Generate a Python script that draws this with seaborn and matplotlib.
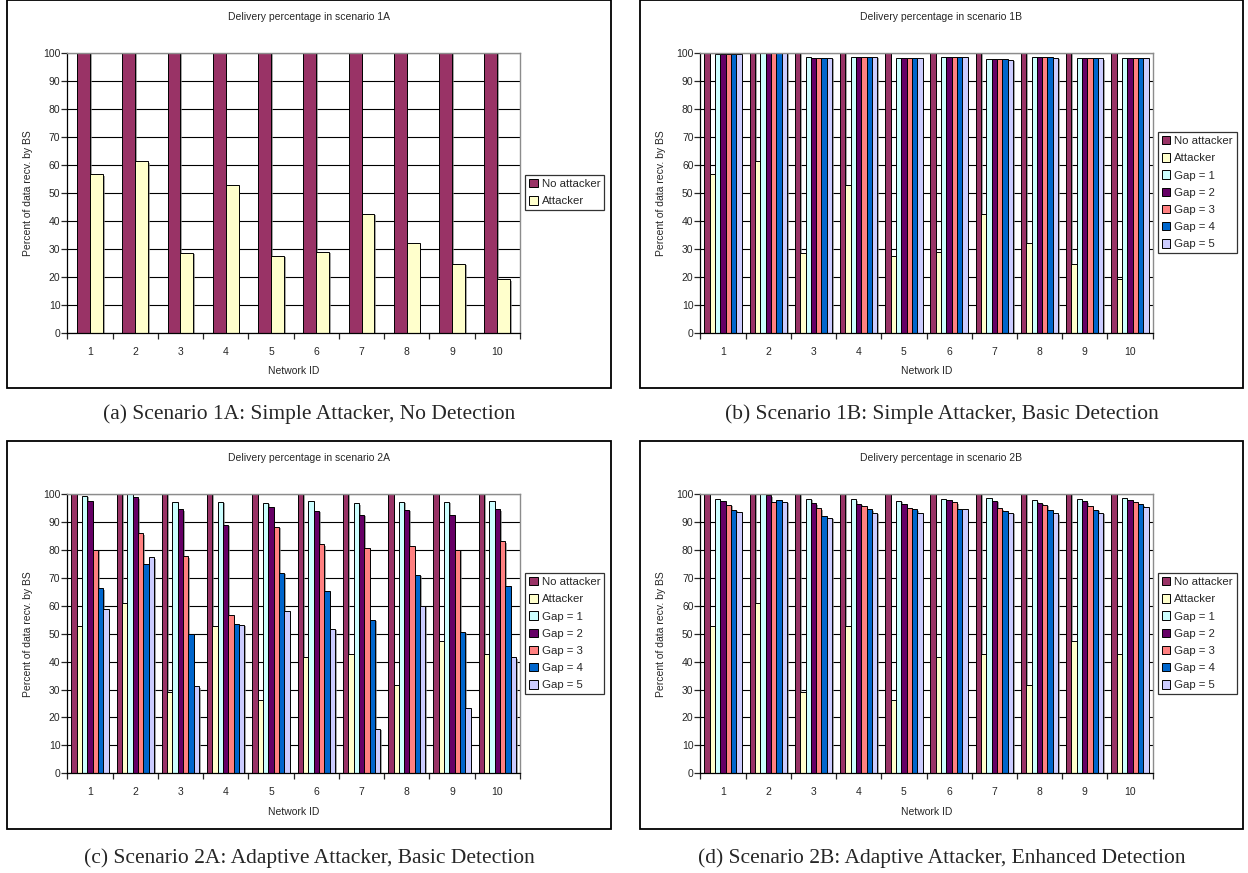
import numpy as np
import pandas as pd
import matplotlib
matplotlib.use("Agg")
import matplotlib.pyplot as plt
import matplotlib.patheffects as pe
from matplotlib.patches import Patch, Rectangle
import seaborn as sns

# ---- data ----
network_ids = ["1", "2", "3", "4", "5", "6", "7", "8", "9", "10"]

no_attacker = [100, 100, 100, 100, 100, 100, 100, 100, 100, 100]
attacker_1 = [56.6, 61.2, 28.6, 52.9, 27.4, 28.9, 42.4, 31.9, 24.5, 19.0]
attacker_2 = [52.7, 61.1, 29.2, 52.7, 26.4, 41.6, 42.6, 31.7, 47.5, 42.8]

gap1_1b = [99.5, 100, 98.3, 98.6, 98.0, 98.6, 97.9, 98.3, 98.2, 98.2]
gap2_1b = [99.4, 99.9, 98.1, 98.5, 98.0, 98.5, 97.6, 98.3, 98.0, 98.1]
gap3_1b = [99.4, 99.9, 98.2, 98.6, 98.1, 98.4, 97.7, 98.3, 98.0, 98.0]
gap4_1b = [99.4, 99.9, 98.2, 98.5, 98.1, 98.4, 97.9, 98.3, 98.0, 98.0]
gap5_1b = [99.4, 99.9, 98.2, 98.5, 98.1, 98.5, 97.4, 98.2, 98.0, 98.0]

gap1_2a = [99.3, 100, 97.1, 97.3, 96.9, 97.4, 96.7, 97.3, 97.1, 97.4]
gap2_2a = [97.6, 98.8, 94.5, 89.0, 95.2, 94.0, 92.5, 94.3, 92.6, 94.5]
gap3_2a = [80.0, 85.9, 77.7, 56.6, 88.2, 82.0, 80.8, 81.5, 80.1, 83.1]
gap4_2a = [66.2, 75.1, 49.9, 53.5, 71.7, 65.3, 54.9, 71.1, 50.7, 67.1]
gap5_2a = [58.9, 77.4, 31.1, 53.2, 58.0, 51.7, 16.0, 59.9, 23.3, 41.5]

gap1_2b = [98.1, 100, 98.2, 98.1, 97.5, 98.3, 98.4, 97.7, 98.1, 98.4]
gap2_2b = [97.6, 99.5, 96.7, 96.4, 96.5, 97.9, 97.5, 96.9, 97.4, 97.9]
gap3_2b = [96.2, 97.0, 94.9, 95.6, 94.9, 97.0, 94.9, 96.1, 95.6, 97.0]
gap4_2b = [94.4, 97.7, 92.0, 94.5, 94.5, 94.7, 93.8, 94.2, 94.4, 96.3]
gap5_2b = [93.7, 97.1, 91.4, 93.3, 93.3, 94.5, 93.2, 93.1, 93.2, 95.2]

series_names = ["No attacker", "Attacker", "Gap = 1", "Gap = 2", "Gap = 3", "Gap = 4", "Gap = 5"]
colors = ["#993366", "#FFFFCC", "#CCFFFF", "#660066", "#FF8080", "#0066CC", "#CCCCFF"]
palette = dict(zip(series_names, colors))

W, H = 1248, 873
sns.set_style("white")
plt.rcParams["font.family"] = ["Liberation Sans", "DejaVu Sans"]

fig = plt.figure(figsize=(W / 100, H / 100), dpi=100)


def px_axes(x0, y0, x1, y1):
    return fig.add_axes([x0 / W, 1 - y1 / H, (x1 - x0) / W, (y1 - y0) / H])


def draw_panel(ax, series, title, box, caption, caption_y):
    names = series_names[:len(series)]
    rows = []
    for name, vals in zip(names, series):
        for nid, v in zip(network_ids, vals):
            rows.append({"Network ID": nid, "pct": v, "series": name})
    df = pd.DataFrame(rows)
    n = len(names)
    sns.barplot(data=df, x="Network ID", y="pct", hue="series", order=network_ids,
                hue_order=names, palette=palette, width=n / (n + 1.5), gap=0,
                edgecolor="black", linewidth=0.7, saturation=1, legend=False, ax=ax)
    for p in ax.patches:
        p.set_path_effects([pe.SimplePatchShadow(offset=(1.2, -1.0), shadow_rgbFace="#7f7f7f", alpha=0.7),
                            pe.Normal()])
    ax.set_xlim(-0.5, 9.5)
    ax.set_ylim(0, 100)
    ax.set_yticks(range(0, 101, 10))
    ax.yaxis.grid(True, color="black", linewidth=0.8)
    ax.set_axisbelow(True)
    for s in ["top", "right"]:
        ax.spines[s].set_color("#8c8c8c")
        ax.spines[s].set_linewidth(1.0)
    for s in ["left", "bottom"]:
        ax.spines[s].set_color("black")
        ax.spines[s].set_linewidth(0.9)
    ax.set_xticks(np.arange(-0.5, 10, 1), minor=True)
    ax.tick_params(axis="x", which="major", length=0, pad=10, labelsize=7.5)
    ax.tick_params(axis="x", which="minor", length=4, width=0.9, direction="out", bottom=True)
    ax.tick_params(axis="y", length=4, width=0.9, direction="out", left=True, pad=1, labelsize=7.5)
    ax.set_xlabel("Network ID", fontsize=7.5, labelpad=7)
    ax.set_ylabel("Percent of data recv. by BS", fontsize=7.5, labelpad=7)

    handles = [Patch(facecolor=palette[nm], edgecolor="black", linewidth=0.7) for nm in names]
    leg = ax.legend(handles, names, loc="center left", bbox_to_anchor=(1.012, 0.5),
                    fontsize=8.2, frameon=True, fancybox=False, edgecolor="black",
                    handlelength=0.75, handleheight=0.75, handletextpad=0.35,
                    labelspacing=0.62, borderpad=0.35, borderaxespad=0)
    leg.get_frame().set_linewidth(0.9)

    x0, y0, x1, y1 = box
    fig.add_artist(Rectangle((x0 / W, 1 - y1 / H), (x1 - x0) / W, (y1 - y0) / H,
                             transform=fig.transFigure, fill=False, edgecolor="black", linewidth=1.3))
    fig.text((x0 + x1) / 2 / W, 1 - (y0 + 17) / H, title, ha="center", va="center", fontsize=7.5)
    fig.text((x0 + x1) / 2 / W, 1 - caption_y / H, caption, ha="center", va="center",
             fontsize=15.5, family=["Liberation Serif", "DejaVu Serif"])


ax_a = px_axes(67.3, 52.7, 520, 332.7)
draw_panel(ax_a, [no_attacker, attacker_1],
           "Delivery percentage in scenario 1A", (7, 0, 611, 388),
           "(a) Scenario 1A: Simple Attacker, No Detection", 414)

ax_b = px_axes(700.5, 52.7, 1152.5, 332.7)
draw_panel(ax_b, [no_attacker, attacker_1, gap1_1b, gap2_1b, gap3_1b, gap4_1b, gap5_1b],
           "Delivery percentage in scenario 1B", (640, 0, 1243, 388),
           "(b) Scenario 1B: Simple Attacker, Basic Detection", 414)

ax_c = px_axes(67.3, 494, 520, 773.3)
draw_panel(ax_c, [no_attacker, attacker_2, gap1_2a, gap2_2a, gap3_2a, gap4_2a, gap5_2a],
           "Delivery percentage in scenario 2A", (7, 441, 611, 829),
           "(c) Scenario 2A: Adaptive Attacker, Basic Detection", 858)

ax_d = px_axes(700.5, 494, 1152.5, 773.3)
draw_panel(ax_d, [no_attacker, attacker_2, gap1_2b, gap2_2b, gap3_2b, gap4_2b, gap5_2b],
           "Delivery percentage in scenario 2B", (640, 441, 1243, 829),
           "(d) Scenario 2B: Adaptive Attacker, Enhanced Detection", 858)

fig.savefig("out.png", dpi=100)
